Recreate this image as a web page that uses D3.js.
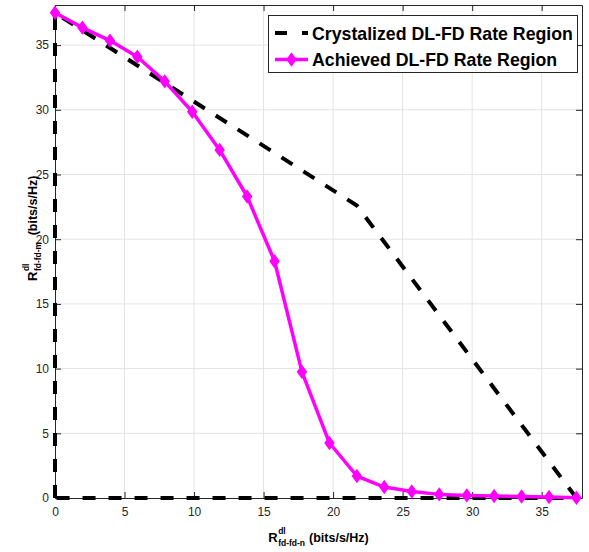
<!DOCTYPE html>
<meta charset="utf-8">
<head>
<title>DL-FD Rate Region</title>
<style>
body { margin: 0; background: #fff; }
svg { display: block; font-family: "Liberation Sans", Arial, sans-serif; }
.grid line { stroke: #e3e3e3; stroke-width: 1; }
.legend text { font-size: 18px; font-weight: bold; fill: #000; }
.axis-title { font-weight: bold; fill: #000; }
</style>
</head>
<body>
<script src="https://cdn.jsdelivr.net/npm/d3@7"></script>
<script>

// Data
var rateN = [0, 1.97, 3.95, 5.92, 7.89, 9.87, 11.84, 13.82, 15.79, 17.76,
             19.74, 21.71, 23.68, 25.66, 27.63, 29.61, 31.58, 33.55, 35.53, 37.5];
var achievedM = [37.5, 36.35, 35.35, 34.1, 32.2, 29.85, 26.9, 23.3, 18.3, 9.75,
                 4.25, 1.7, 0.85, 0.5, 0.28, 0.2, 0.15, 0.12, 0.08, 0.02];

// crystalized region boundary (closed polygon)
var crystalN = [0, 0, 21.71, 37.5, 0];
var crystalM = [0, 37.5, 22.6, 0, 0];

var xTicks = [0, 5, 10, 15, 20, 25, 30, 35],
    yTicks = [0, 5, 10, 15, 20, 25, 30, 35];

var legendNames = ["Crystalized DL-FD Rate Region", "Achieved DL-FD Rate Region"];

// Setup
var W = 589, H = 552,
    margin = {top: 5, right: 7, bottom: 54, left: 55},
    width = W - margin.left - margin.right,
    height = H - margin.top - margin.bottom;

var svg = d3.select("body").append("svg")
    .attr("width", W)
    .attr("height", H);

var g = svg.append("g")
    .attr("transform", "translate(" + margin.left + "," + margin.top + ")");

var x = d3.scaleLinear().domain([0, 37.9]).range([0, width]);
var y = d3.scaleLinear().domain([0, 38.1]).range([height, 0]);

// Grid
var grid = g.append("g").attr("class", "grid");
grid.selectAll(".gx").data(xTicks.filter(function(d) { return d > 0; }))
    .enter().append("line")
    .attr("x1", function(d) { return x(d); })
    .attr("x2", function(d) { return x(d); })
    .attr("y1", 0).attr("y2", height);
grid.selectAll(".gy").data(yTicks.filter(function(d) { return d > 0; }))
    .enter().append("line")
    .attr("y1", function(d) { return y(d); })
    .attr("y2", function(d) { return y(d); })
    .attr("x1", 0).attr("x2", width);

// Axes (box with inward ticks)
var tk = 6;
var axBottom = d3.axisBottom(x).tickValues(xTicks).tickSizeInner(-tk).tickSizeOuter(0).tickPadding(9);
var axLeft = d3.axisLeft(y).tickValues(yTicks).tickSizeInner(-tk).tickSizeOuter(0).tickPadding(6);
var axTop = d3.axisTop(x).tickValues(xTicks).tickSizeInner(-tk).tickSizeOuter(0).tickFormat("");
var axRight = d3.axisRight(y).tickValues(yTicks).tickSizeInner(-tk).tickSizeOuter(0).tickFormat("");

function styleAxis(sel) {
    sel.select(".domain").attr("stroke", "#262626");
    sel.selectAll(".tick line").attr("stroke", "#262626");
    sel.selectAll(".tick text").attr("fill", "#262626")
        .style("font-family", "Liberation Sans, Arial, sans-serif").style("font-size", "12px");
}

g.append("g").attr("transform", "translate(0," + height + ")").call(axBottom).call(styleAxis);
g.append("g").call(axLeft).call(styleAxis);
g.append("g").call(axTop).call(styleAxis);
g.append("g").attr("transform", "translate(" + width + ",0)").call(axRight).call(styleAxis);

// Crystalized region (dashed)
var crystal = crystalN.map(function(d, i) { return [d, crystalM[i]]; });
var line = d3.line()
    .x(function(d) { return x(d[0]); })
    .y(function(d) { return y(d[1]); });

g.append("path")
    .datum(crystal)
    .attr("d", line)
    .attr("fill", "none")
    .attr("stroke", "#000")
    .attr("stroke-width", 4)
    .attr("stroke-dasharray", "13,13");

// Achieved region
var achieved = rateN.map(function(d, i) { return [d, achievedM[i]]; });
g.append("path")
    .datum(achieved)
    .attr("d", line)
    .attr("fill", "none")
    .attr("stroke", "#ff00ff")
    .attr("stroke-width", 3.5)
    .attr("stroke-linejoin", "round");

var diamond = "M0,-5.5L4,0L0,5.5L-4,0Z";
g.selectAll(".mk").data(achieved)
    .enter().append("path")
    .attr("class", "mk")
    .attr("d", diamond)
    .attr("transform", function(d) { return "translate(" + x(d[0]) + "," + y(d[1]) + ")"; })
    .attr("fill", "#ff00ff")
    .attr("stroke", "#ff00ff")
    .attr("stroke-width", 2)
    .attr("stroke-linejoin", "miter");

// Legend
var lg = svg.append("g").attr("class", "legend");
lg.append("rect")
    .attr("x", 268.5).attr("y", 15.5)
    .attr("width", 309).attr("height", 57)
    .attr("fill", "#fff")
    .attr("stroke", "#262626")
    .attr("stroke-width", 1);

lg.append("line")
    .attr("x1", 275).attr("x2", 308).attr("y1", 33).attr("y2", 33)
    .attr("stroke", "#000").attr("stroke-width", 4)
    .attr("stroke-dasharray", "12,15");
lg.append("line")
    .attr("x1", 275).attr("x2", 308).attr("y1", 59.5).attr("y2", 59.5)
    .attr("stroke", "#ff00ff").attr("stroke-width", 3.5);
lg.append("path")
    .attr("d", diamond)
    .attr("transform", "translate(291.5,59.5)")
    .attr("fill", "#ff00ff").attr("stroke", "#ff00ff").attr("stroke-width", 2);

lg.selectAll(".lt").data(legendNames)
    .enter().append("text")
    .attr("x", 312)
    .attr("y", function(d, i) { return i === 0 ? 40 : 65.5; })
    .text(function(d) { return d; });

// fit legend text width to the reference (first line ~261px)
var lw = lg.select("text").node().getComputedTextLength();
lg.selectAll("text").style("font-size", (18 * 261 / lw) + "px");

// Axis titles: R^{dl}_{sub} (bits/s/Hz)
function axisTitle(parent, sub, gap) {
    var t = parent.append("g").attr("class", "axis-title");
    var r = t.append("text").attr("x", 0).attr("y", 0)
        .style("font-size", "13px").style("font-weight", "bold").text("R");
    var rw = r.node().getComputedTextLength();
    var sp = t.append("text").attr("x", rw + 0.5).attr("y", -8)
        .style("font-size", "8.5px").style("font-weight", "bold").text("dl");
    var sb = t.append("text").attr("x", rw + 0.5).attr("y", 4)
        .style("font-size", "8.5px").style("font-weight", "bold").text(sub);
    var w2 = Math.max(sp.node().getComputedTextLength(), sb.node().getComputedTextLength());
    var u = t.append("text").attr("x", rw + w2 + gap).attr("y", 0)
        .style("font-size", "12.5px").style("font-weight", "bold").text("(bits/s/Hz)");
    var total = rw + w2 + gap + u.node().getComputedTextLength();
    return {g: t, w: total};
}

var xt = axisTitle(svg, "fd-fd-n", 4.5);
xt.g.attr("transform", "translate(" + (margin.left + width / 2 - xt.w / 2) + ",541.5)");

var yt = axisTitle(svg, "fd-fd-m", 7);
yt.g.attr("transform", "translate(37,281) rotate(-90)");

</script>
</body>
